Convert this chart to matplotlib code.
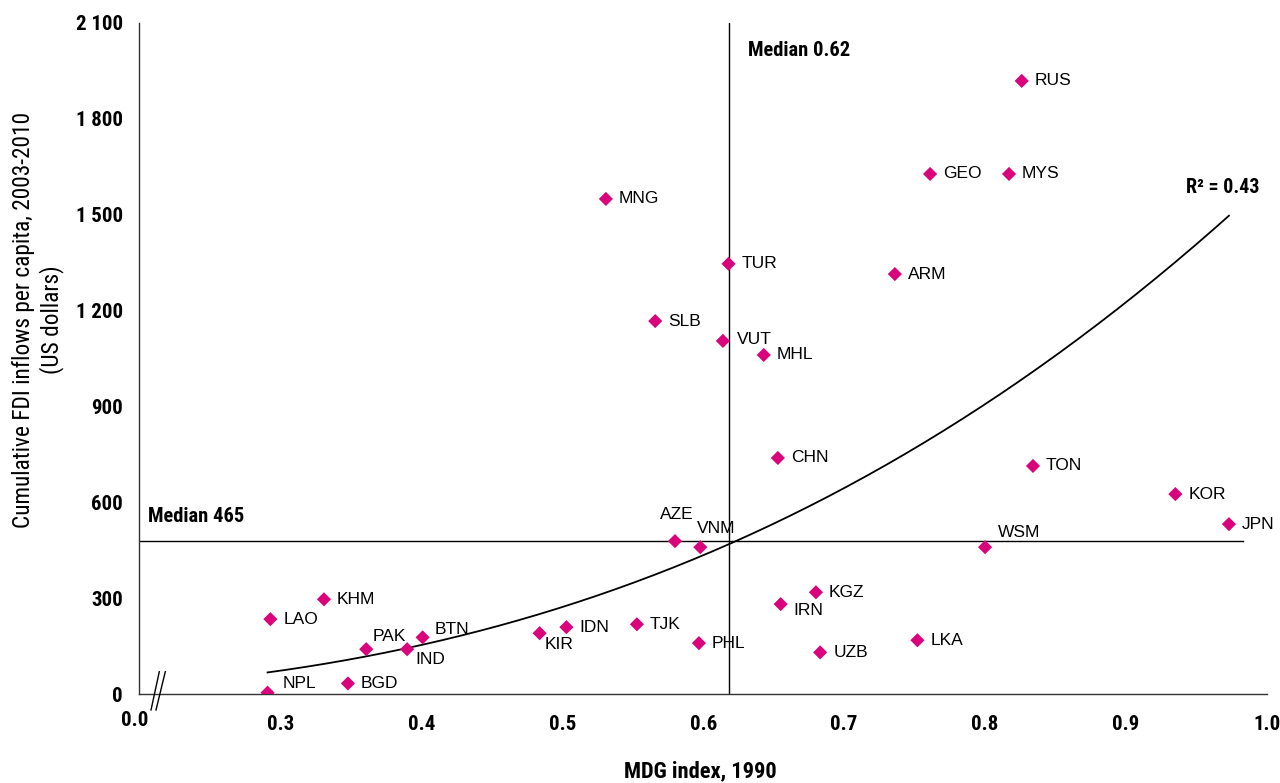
import matplotlib
matplotlib.use("Agg")
import matplotlib.pyplot as plt
from matplotlib import font_manager
from matplotlib.lines import Line2D
import numpy as np

# Countries, MDG index 1990 (x) and cumulative FDI per capita 2003-2010 (y)
codes = ["RUS", "GEO", "MYS", "MNG", "TUR", "ARM", "SLB", "VUT", "MHL", "CHN",
         "TON", "KOR", "JPN", "AZE", "VNM", "WSM", "KGZ", "IRN", "LAO", "KHM",
         "TJK", "IDN", "KIR", "BTN", "PAK", "IND", "PHL", "UZB", "LKA", "BGD", "NPL"]
mdg_index = [0.826, 0.761, 0.817, 0.531, 0.618, 0.736, 0.566, 0.614, 0.643, 0.653,
             0.834, 0.935, 0.973, 0.580, 0.598, 0.800, 0.680, 0.655, 0.293, 0.331,
             0.553, 0.503, 0.484, 0.401, 0.361, 0.390, 0.597, 0.683, 0.752, 0.348, 0.291]
fdi_per_capita = [1918, 1627, 1627, 1549, 1346, 1314, 1167, 1105, 1061, 739,
                  714, 626, 532, 479, 460, 460, 319, 282, 235, 297,
                  219, 210, 191, 178, 141, 141, 160, 131, 169, 34, 5]

median_x = 0.618
median_y = 478
# power trendline y = a * x^b, R^2 = 0.43
trend_a = 1605
trend_b = 2.557

# label offsets in pixels (dx, dy, ha); default is to the right
label_offsets = {
    "AZE": (2, 27, "center"),
    "VNM": (-3, 19, "left"),
    "WSM": (13, 15, "left"),
    "KIR": (5, -11, "left"),
    "IND": (8, -10, "left"),
    "IRN": (13, -6, "left"),
    "PAK": (6, 13, "left"),
    "BTN": (12, 8, "left"),
    "NPL": (15, 9, "left"),
    "VUT": (14, 1, "left"),
}

plt.rcParams["font.family"] = ["Liberation Sans", "DejaVu Sans"]

# axis text in the original is a narrow face; use one if there is one
narrow = None
for fam in ["Liberation Sans Narrow", "Arial Narrow", "Roboto Condensed",
            "Open Sans Condensed", "Nimbus Sans Narrow"]:
    try:
        font_manager.findfont(font_manager.FontProperties(family=fam),
                              fallback_to_default=False)
        narrow = fam
        break
    except ValueError:
        pass
if narrow:
    nfam, k = [narrow, "Liberation Sans"], 1.2
else:
    nfam, k = ["Liberation Sans", "DejaVu Sans"], 1.0

W, H = 1280, 783
fig = plt.figure(figsize=(12.8, 7.83), dpi=100)
ax = fig.add_axes([139.3 / W, 1 - 694.3 / H, (1267 - 139.3) / W, (694.3 - 22.7) / H])

ax.set_xlim(0.2, 1.0)
ax.set_ylim(0, 2100)
for s in ["top", "right"]:
    ax.spines[s].set_visible(False)
for s in ["left", "bottom"]:
    ax.spines[s].set_color("#333333")
    ax.spines[s].set_linewidth(1.0)

xt = np.arange(0.3, 1.01, 0.1)
ax.set_xticks(xt)
ax.set_xticklabels(["%.1f" % v for v in xt])
yt = np.arange(0, 2101, 300)
ax.set_yticks(yt)
ax.set_yticklabels([f"{v:,}".replace(",", " ") for v in yt])
ax.tick_params(axis="both", length=0, labelsize=12.5 * k)
ax.tick_params(axis="y", pad=12)
ax.tick_params(axis="x", pad=15)
for lab in ax.get_xticklabels() + ax.get_yticklabels():
    lab.set_family(nfam)
    lab.set_fontweight("bold")

# median lines
ax.axvline(median_x, color="black", lw=1.0, zorder=1)
ax.plot([0.2, 0.983], [median_y, median_y], color="black", lw=1.0, zorder=1)

# trendline over the data range
xs = np.linspace(min(mdg_index), max(mdg_index), 200)
ax.plot(xs, trend_a * xs ** trend_b, color="black", lw=1.3, zorder=2)

ax.scatter(mdg_index, fdi_per_capita, marker="D", s=52, color="#D9047C",
           edgecolors="none", zorder=3)

for c, x, y in zip(codes, mdg_index, fdi_per_capita):
    dx, dy, ha = label_offsets.get(c, (13, 0, "left"))
    ax.annotate(c, (x, y), xytext=(dx * 0.72, dy * 0.72), textcoords="offset points",
                ha=ha, va="center", fontsize=12.5, color="black")

ax.text(0.632, 2013, "Median 0.62", family=nfam, fontweight="bold", fontsize=12.3 * k,
        va="center", ha="left")
ax.text(0.2063, 555, "Median 465", family=nfam, fontweight="bold", fontsize=12.3 * k,
        va="center", ha="left")
ax.text(0.9423, 1586, "R² = 0.43", family=nfam, fontweight="bold", fontsize=12.0 * k,
        va="center", ha="left")

# "0.0" label and axis break marks
fig.text(135 / W, 1 - 720 / H, "0.0", family=nfam, fontweight="bold", fontsize=12.5 * k,
         ha="center", va="center")
for x0, x1 in [(151, 159.3), (156, 165.3)]:
    fig.add_artist(Line2D([x0 / W, x1 / W], [1 - 710 / H, 1 - 671.7 / H],
                          color="black", lw=1.0))

fig.text(700 / W, 1 - 771 / H, "MDG index, 1990", family=nfam, fontweight="bold",
         fontsize=13.5 * k, ha="center", va="center")
fig.text(38 / W, 1 - 320 / H, "Cumulative FDI inflows per capita, 2003-2010\n(US dollars)",
         family=nfam, fontsize=14.0 * k, rotation=90, ha="center", va="center",
         multialignment="center", linespacing=1.2)

fig.savefig("out.png", dpi=100)
